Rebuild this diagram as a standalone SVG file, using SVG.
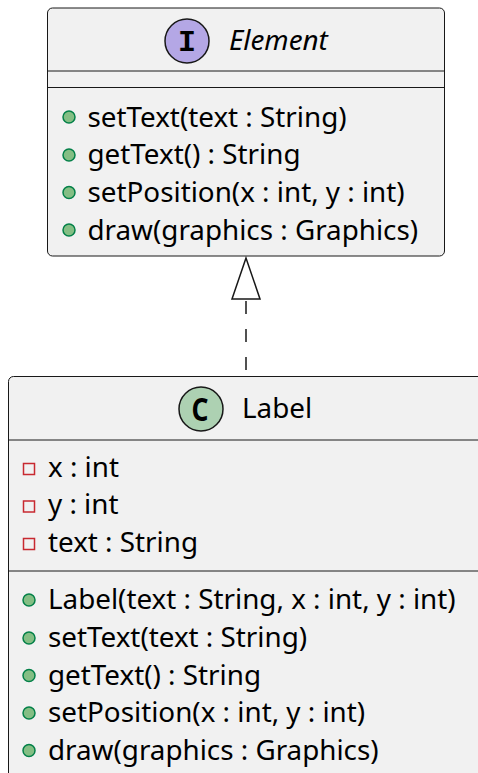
<svg xmlns="http://www.w3.org/2000/svg" width="478" height="773" viewBox="0 0 478 773">
<style>
.box{fill:#F1F1F1;stroke:#181818;stroke-width:1}
.sep{stroke:#181818;stroke-width:1}
.t{font-family:"Noto Sans",sans-serif;font-size:27.8px;fill:#000}
.pub{fill:#84BE84;stroke:#038048;stroke-width:1.5}
.priv{fill:none;stroke:#C82930;stroke-width:1.5}
</style>
<rect width="478" height="773" fill="#FFFFFF"/>
<g id="connectors">
<line x1="246" y1="370" x2="246" y2="299" stroke="#181818" stroke-width="1.5" stroke-dasharray="13,15"/>
<polygon points="246,258 232,299 260,299" fill="#FFFFFF" stroke="#181818" stroke-width="1.5"/>
</g>
<g id="Element">
<rect class="box" x="47.5" y="8" width="397" height="248" rx="5"/>
<circle cx="187" cy="41" r="22" fill="#B4A7E5" stroke="#181818" stroke-width="1.5"/>
<text x="187" y="51" text-anchor="middle" font-family="Liberation Mono,monospace" font-weight="bold" font-size="30">I</text>
<text class="t" x="229" y="50" font-style="italic">Element</text>
<line class="sep" x1="47.5" y1="71" x2="444.5" y2="71"/>
<line class="sep" x1="47.5" y1="87.5" x2="444.5" y2="87.5"/>
<circle class="pub" cx="69" cy="117" r="6"/>
<text class="t" x="87.5" y="126.5">setText(text : String)</text>
<circle class="pub" cx="69" cy="155" r="6"/>
<text class="t" x="87.5" y="164">getText() : String</text>
<circle class="pub" cx="69" cy="192.5" r="6"/>
<text class="t" x="87.5" y="201.5">setPosition(x : int, y : int)</text>
<circle class="pub" cx="69" cy="230" r="6"/>
<text class="t" x="87.5" y="239.5">draw(graphics : Graphics)</text>
</g>
<g id="Label">
<rect class="box" x="8.5" y="376.5" width="490" height="420" rx="5"/>
<circle cx="201" cy="409" r="22" fill="#ADD1B2" stroke="#181818" stroke-width="1.5"/>
<text transform="translate(200,421) scale(0.8,1)" text-anchor="middle" font-family="Noto Sans,sans-serif" font-weight="bold" font-size="33">C</text>
<text class="t" x="242" y="418">Label</text>
<line class="sep" x1="8.5" y1="440" x2="478" y2="440"/>
<rect class="priv" x="23.5" y="463.5" width="11" height="11"/>
<text class="t" x="48" y="477">x : int</text>
<rect class="priv" x="23.5" y="501" width="11" height="11"/>
<text class="t" x="48" y="514">y : int</text>
<rect class="priv" x="23.5" y="538.5" width="11" height="11"/>
<text class="t" x="48" y="552">text : String</text>
<line class="sep" x1="8.5" y1="571" x2="478" y2="571"/>
<circle class="pub" cx="29" cy="600" r="6"/>
<text class="t" x="48" y="609">Label(text : String, x : int, y : int)</text>
<circle class="pub" cx="29" cy="638" r="6"/>
<text class="t" x="48" y="647">setText(text : String)</text>
<circle class="pub" cx="29" cy="675.5" r="6"/>
<text class="t" x="48" y="684.5">getText() : String</text>
<circle class="pub" cx="29" cy="713" r="6"/>
<text class="t" x="48" y="722">setPosition(x : int, y : int)</text>
<circle class="pub" cx="29" cy="750.5" r="6"/>
<text class="t" x="48" y="759.5">draw(graphics : Graphics)</text>
</g>
</svg>
